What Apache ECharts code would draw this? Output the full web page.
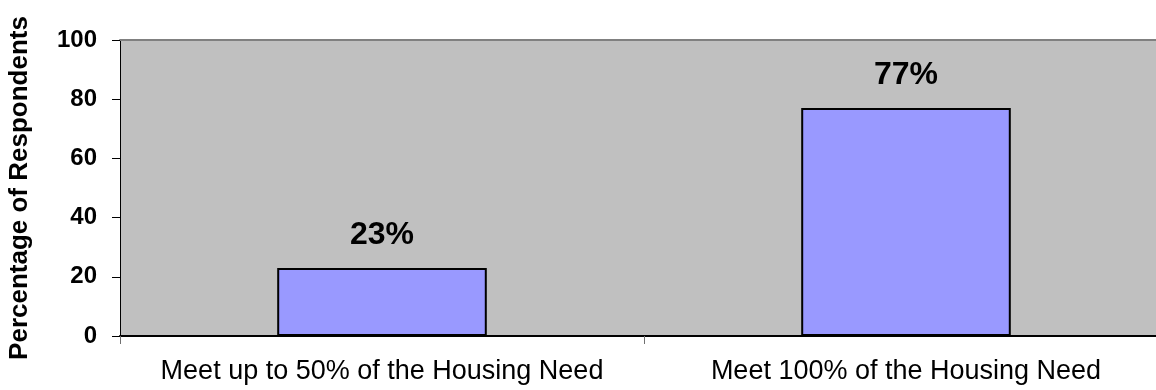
<!DOCTYPE html>
<html>
<head>
<meta charset="utf-8">
<script src="https://cdn.jsdelivr.net/npm/echarts@6/dist/echarts.min.js"></script>
<style>html,body{margin:0;padding:0;background:#fff}#c{width:1156px;height:390px}</style>
</head>
<body>
<div id="c"></div>
<script>
const categories = ['Meet up to 50% of the Housing Need', 'Meet 100% of the Housing Need'];
const values = [23, 77];
const yTicks = [0, 20, 40, 60, 80, 100];
const yTitle = 'Percentage of Respondents';

const chart = echarts.init(document.getElementById('c'), null, {renderer: 'canvas'});
const F = '"Liberation Sans", Arial, sans-serif';
chart.setOption({
  animation: false,
  grid: {left: 120, top: 40, height: 296, width: 1048, outerBoundsMode: 'none', show: true, backgroundColor: '#C0C0C0', borderWidth: 0, containLabel: false},
  xAxis: [{
    type: 'category', data: categories, position: 'bottom',
    axisLine: {lineStyle: {color: '#000', width: 2}},
    axisTick: {show: true, length: 8, lineStyle: {color: '#707070', width: 1}},
    axisLabel: {color: '#000', fontFamily: F, fontSize: 27, margin: 22, interval: 0}
  }, {
    type: 'category', data: categories, position: 'top',
    axisLine: {lineStyle: {color: '#808080', width: 2}},
    axisTick: {show: false}, axisLabel: {show: false}
  }],
  yAxis: {
    type: 'value', min: yTicks[0], max: yTicks[yTicks.length - 1], interval: 20,
    name: yTitle, nameLocation: 'middle', nameGap: 87, nameRotate: 90,
    nameTextStyle: {color: '#000', fontFamily: F, fontSize: 26, fontWeight: 'bold'},
    axisLine: {show: true, lineStyle: {color: '#000', width: 1}},
    axisTick: {show: true, length: 8, lineStyle: {color: '#000'}},
    splitLine: {show: false},
    axisLabel: {color: '#000', fontFamily: F, fontSize: 24, fontWeight: 'bold', margin: 23}
  },
  series: [{
    type: 'bar', data: values, barWidth: '40%', xAxisIndex: 0,
    itemStyle: {color: '#9999FF', borderColor: '#000', borderWidth: 2},
    label: {show: true, position: 'top', distance: 17, formatter: '{c}%', color: '#000', fontFamily: F, fontSize: 32, fontWeight: 'bold'}
  }]
});
</script>
</body>
</html>
